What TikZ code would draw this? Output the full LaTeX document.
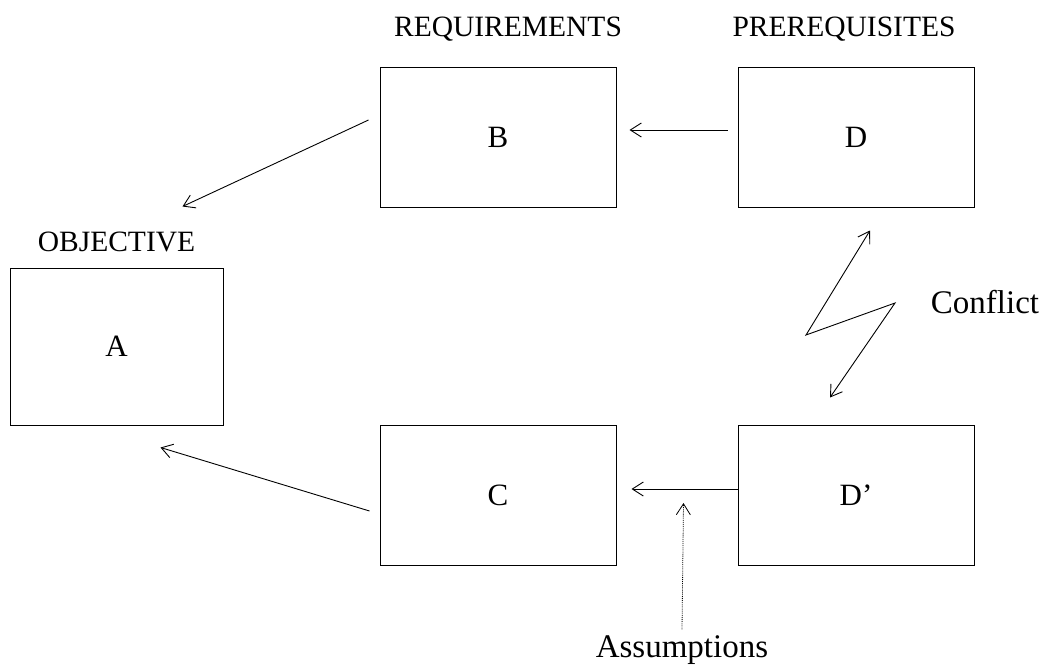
\documentclass[tikz,border=0pt]{standalone}
\usepackage{fontspec}
\setmainfont{Liberation Serif}
\usetikzlibrary{arrows.meta,positioning}

\tikzset{
  box/.style={draw,line width=1pt,minimum width=236pt,minimum height=140pt,inner sep=0pt,
    font=\fontsize{31}{33}\selectfont},
  lbl/.style={inner sep=0pt,font=\fontsize{29.5}{31}\selectfont},
  note/.style={inner sep=0pt,font=\fontsize{33}{35}\selectfont},
  arr/.style={line width=0.9pt,-{Straight Barb[length=11pt,width=14pt]}},
  dblarr/.style={line width=0.9pt,{Straight Barb[length=11pt,width=14pt]}-{Straight Barb[length=11pt,width=14pt]}}
}

\begin{document}
\begin{tikzpicture}[x=1pt,y=-1pt]
\useasboundingbox (0,0) rectangle (1044,664);
% boxes
\node[box,minimum width=213pt,minimum height=157pt] (A) at (116.5,346.5) {A};
\node[box] (B) at (498,137) {B};
\node[box] (D) at (856,137) {D};
\node[box] (C) at (498,495) {C};
\node[box] (Dp) at (856,495) {D'};
% labels
\node[lbl,anchor=base] (obj) at ([yshift=16pt]A.north) {OBJECTIVE};
\node[lbl,anchor=base] (req) at ([yshift=30pt,xshift=10pt]B.north) {REQUIREMENTS};
\node[lbl,anchor=base] (pre) at ([yshift=30pt,xshift=-12pt]D.north) {PREREQUISITES};
\node[note] (con) at (985,302) {Conflict};
\node[note] (asm) at (682,650) {Assumptions};
% arrows
\draw[arr] ([xshift=-11pt,yshift=17pt]B.west) -- ([xshift=-41pt,yshift=61pt]A.north east);
\draw[arr] ([xshift=-10pt,yshift=7pt]D.west) -- ([xshift=13pt,yshift=7pt]B.east);
\draw[arr] ([xshift=-10pt,yshift=-16pt]C.west) -- ([xshift=-63pt,yshift=-22pt]A.south east);
\draw[arr] ([yshift=6pt]Dp.west) -- ([xshift=15pt,yshift=6pt]C.east);
\draw[dblarr] ([xshift=14pt,yshift=-23pt]D.south) -- (806,335) -- (895,303)
  -- ([xshift=-26pt,yshift=27pt]Dp.north);
\draw[arr,densely dotted,line width=0.8pt] ([yshift=6pt]asm.north) -- ([xshift=67pt,yshift=-8pt]C.east);
\end{tikzpicture}
\end{document}
